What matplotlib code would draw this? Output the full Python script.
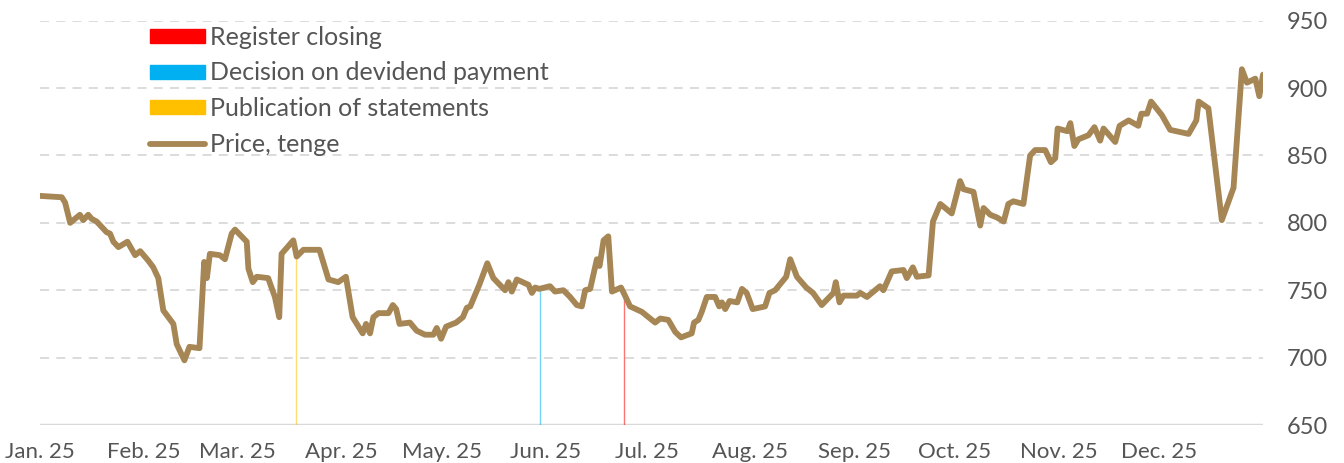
import datetime as dt
import matplotlib
matplotlib.use("Agg")
import matplotlib.pyplot as plt
import matplotlib.dates as mdates
from matplotlib.patches import Patch
from matplotlib.lines import Line2D

plt.rcParams['font.family'] = ['Lato', 'DejaVu Sans']

# days since 1 Jan 2025 and closing price, tenge
days = [0, 6.5, 7.5, 9.0, 11.9, 12.9, 14.4, 15.4, 16.9, 19.9, 20.9, 21.9, 23.4, 26.1, 28.4, 29.9,
        32.3, 33.8, 35.3, 36.8, 39.8, 40.8, 43.1, 44.6, 47.6, 49.0, 49.8, 50.7, 53.7, 55.2, 57.2, 58.2,
        61.7, 62.2, 63.5, 64.7, 68.1, 70.1, 71.4, 72.1, 75.6, 76.6, 78.6, 83.4, 86.1, 89.0, 91.3,
        93.3, 96.3, 97.3, 98.5, 99.5, 101.0, 104.0, 105.3, 106.3, 107.3, 110.4, 112.4, 114.9, 117.4,
        118.4, 119.7, 121.2, 124.2, 126.2, 127.4, 128.4, 131.1, 133.5, 135.3, 138.8, 139.8, 140.8,
        142.3, 145.8, 146.8, 147.8, 149.0, 152.2, 153.7, 156.2, 158.2, 160.2, 161.7, 162.7, 164.2,
        166.2, 167.0, 168.2, 169.6, 170.7, 173.4, 174.6, 176.1, 179.6, 181.6, 183.6, 185.1, 187.5,
        189.6, 191.3, 194.5, 195.2, 196.5, 197.5, 199.0, 201.5, 202.7, 203.5, 204.5, 205.8, 208.1,
        209.5, 210.9, 212.7, 216.4, 217.7, 219.4, 222.7, 223.9, 225.9, 228.7, 230.7, 233.3, 236.8,
        237.5, 238.6, 239.8, 243.8, 244.8, 246.8, 250.7, 251.7, 254.2, 257.7, 258.7, 260.5, 261.7,
        265.2, 266.5, 268.7, 272.1, 274.6, 275.6, 278.6, 280.6, 281.6, 283.6, 285.6, 287.6, 289.0,
        290.5, 293.5, 295.5, 297.0, 300.0, 301.7, 303.0, 303.7, 306.6, 307.5, 308.7, 309.9, 312.9,
        314.7, 316.4, 317.4, 320.9, 322.2, 324.9, 327.8, 328.7, 330.4, 331.6, 334.8, 337.3, 342.8,
        345.1, 345.8, 348.7, 352.7, 356.2, 358.7, 360.2, 362.7, 363.9, 365.0]
prices = [820, 819, 815, 800, 806, 802, 806, 803, 801, 793, 792, 786, 782, 786, 776, 779,
          772, 767, 759, 735, 725, 710, 698, 708, 707, 771, 759, 777, 776, 773, 792, 795,
          786, 766, 756, 760, 759, 745, 730, 777, 787, 775, 780, 780, 758, 756, 760,
          730, 718, 725, 718, 730, 733, 733, 739, 736, 725, 726, 720, 717, 717,
          722, 714, 723, 726, 730, 737, 738, 754, 770, 759, 750, 756, 749,
          758, 754, 748, 752, 751, 753, 749, 750, 745, 739, 738, 750, 751,
          773, 768, 787, 790, 749, 752, 746, 738, 734, 730, 726, 729, 728,
          719, 715, 718, 726, 728, 734, 745, 745, 738, 741, 736, 742, 741,
          751, 748, 736, 738, 748, 750, 760, 773, 760, 752, 748, 739, 748,
          756, 741, 746, 746, 748, 745, 753, 750, 764, 765, 759, 767, 760,
          761, 801, 814, 807, 831, 825, 823, 798, 811, 806, 804, 801, 814,
          816, 814, 850, 854, 854, 845, 848, 870, 868, 874, 857, 862, 865,
          871, 861, 870, 860, 872, 876, 872, 881, 881, 890, 880, 869, 866,
          876, 890, 885, 802, 826, 914, 904, 907, 894, 910]

# corporate events: day offset, price at the event
event_names = ["Register closing", "Decision on devidend payment", "Publication of statements"]
event_colors = ["#FF0000", "#00B0F0", "#FFC000"]
event_days = [174.3, 149.3, 76.4]
event_tops = [745, 750, 776]

month_ticks = [dt.datetime(2025, m, 1) for m in range(1, 13)]

start = mdates.date2num(dt.datetime(2025, 1, 1))
x = [start + d for d in days]

fig = plt.figure(figsize=(13.44, 4.63), dpi=100)
ax = fig.add_axes([40 / 1344, 1 - 425 / 463, (1263 - 40) / 1344, (425 - 20.7) / 463])

for y in [700, 750, 800, 850, 900, 950]:
    ax.axhline(y, color="#D9D9D9", lw=1.3, ls=(0, (5, 4)), zorder=0)
ax.axhline(650, color="#D9D9D9", lw=2.5, zorder=1)

for d, top, c in zip(event_days, event_tops, event_colors):
    ax.vlines(start + d, 650, top, color=c, lw=1, alpha=0.55, zorder=2)

ax.plot(x, prices, color="#A68654", lw=4.2, solid_joinstyle="round", solid_capstyle="round", zorder=3)

ax.set_xlim(start, start + 365)
ax.set_ylim(650, 950)
ax.set_xticks(mdates.date2num(month_ticks))
ax.xaxis.set_major_formatter(mdates.DateFormatter("%b. %y"))
ax.yaxis.tick_right()
ax.set_yticks([650, 700, 750, 800, 850, 900, 950])
ax.tick_params(axis="y", length=0, pad=17, labelsize=17, labelcolor="#555555")
ax.tick_params(axis="x", length=0, pad=12, labelsize=16, labelcolor="#555555")
for s in ax.spines.values():
    s.set_visible(False)

handles = [Patch(color=c) for c in event_colors]
handles.append(Line2D([0], [0], color="#A68654", lw=4.2, solid_capstyle="round"))
labels = event_names + ["Price, tenge"]
leg = ax.legend(handles, labels, loc="upper left", bbox_to_anchor=(150 / 1344, 1 - 26 / 463),
                bbox_transform=fig.transFigure, frameon=False, fontsize=18,
                handlelength=2.2, handleheight=0.48, handletextpad=0.2, labelspacing=0.5,
                borderpad=0, borderaxespad=0)
for t in leg.get_texts():
    t.set_color("#555555")

fig.savefig("out.png", dpi=100)
